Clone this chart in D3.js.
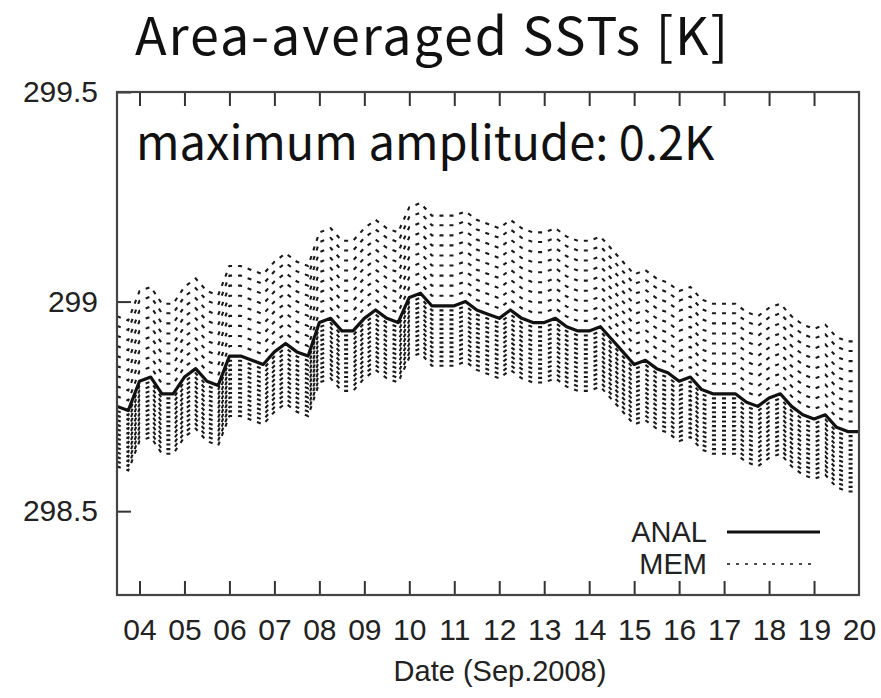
<html>
<head>
<meta charset="utf-8">
<script src="https://d3js.org/d3.v7.min.js"></script>
<style>
  body { margin: 0; background: #fff; }
</style>
</head>
<body>
<svg id="chart" width="881" height="698"></svg>
<script>

// ANAL: area-averaged SST every 6 hours, starting at day 3.5
var startDay = 3.5;
var stepDay = 0.25;
var anal = [298.75,298.74,298.81,298.82,298.78,298.78,298.82,298.84,298.81,298.80,
            298.87,298.87,298.86,298.85,298.88,298.90,298.88,298.87,298.95,298.96,
            298.93,298.93,298.96,298.98,298.96,298.95,299.01,299.02,298.99,298.99,
            298.99,299.00,298.98,298.97,298.96,298.98,298.96,298.95,298.95,298.96,
            298.94,298.93,298.93,298.94,298.91,298.88,298.85,298.86,298.84,298.83,
            298.81,298.82,298.79,298.78,298.78,298.78,298.76,298.75,298.77,298.78,
            298.75,298.73,298.72,298.73,298.70,298.69,298.69];

// MEM: spread of the ensemble members around ANAL [K]
var memOffsets = [0.215,0.192,0.168,0.144,0.120,0.096,0.072,0.048,0.024,
                  -0.011,-0.022,-0.033,-0.044,-0.055,-0.066,-0.077,-0.088,
                  -0.099,-0.110,-0.121,-0.132,-0.143];

var xTicks = [4,5,6,7,8,9,10,11,12,13,14,15,16,17,18,19];
var xLabels = [4,5,6,7,8,9,10,11,12,13,14,15,16,17,18,19,20];
var yTicks = [298.5, 299, 299.5];

var svg = d3.select('#chart');

// plot box
var boxLeft = 117, boxTop = 92, boxRight = 859, boxBottom = 595;
var w = boxRight - boxLeft, h = boxBottom - boxTop;
var fontAxis = "'Liberation Sans', Arial, Helvetica, sans-serif";
var fontJp = "'Noto Sans CJK JP', 'Noto Sans', sans-serif";

var x = d3.scaleLinear().domain([3.5, 20]).range([0, w]);
var y = d3.scaleLinear().domain([298.3, 299.5]).range([h, 0]);

// title
svg.append("text")
    .attr("x", 135)
    .attr("y", 55)
    .style("font-family", fontJp)
    .style("font-size", "52px")
    .style("letter-spacing", "1.9px")
    .style("fill", "#111")
    .text("Area-averaged SSTs [K]");

var g = svg.append("g").attr("transform", "translate(" + boxLeft + "," + boxTop + ")");

g.append("clipPath").attr("id", "clip")
  .append("rect").attr("width", w).attr("height", h);

var line = d3.line()
    .x(function(d, i) { return x(startDay + i * stepDay); })
    .y(function(d) { return y(d); });

var members = memOffsets.map(function(o) {
    return anal.map(function(v) { return v + o; });
});

var plot = g.append("g").attr("clip-path", "url(#clip)");

plot.selectAll(".mem")
    .data(members)
    .enter().append("path")
      .attr("class", "mem")
      .attr("d", line)
      .style("fill", "none")
      .style("stroke", "#1a1a1a")
      .style("stroke-width", 2.1)
      .style("stroke-dasharray", "4,6");

plot.append("path")
    .datum(anal)
    .attr("d", line)
    .style("fill", "none")
    .style("stroke", "#111")
    .style("stroke-width", 3.2)
    .style("stroke-linejoin", "round");

// bottom axis (labels) and inward ticks
var xAxis = g.append("g")
    .attr("transform", "translate(0," + h + ")")
    .call(d3.axisBottom(x).tickValues(xLabels).tickSize(0).tickPadding(24)
          .tickFormat(function(d) { return d3.format("02d")(d); }));
xAxis.select(".domain").remove();
xAxis.selectAll("text")
    .style("font-family", fontAxis)
    .style("font-size", "30px")
    .style("fill", "#222");

g.append("g")
    .attr("transform", "translate(0," + h + ")")
    .call(d3.axisBottom(x).tickValues(xTicks).tickSize(-14).tickFormat(""))
    .call(function(s) { s.select(".domain").remove(); })
    .selectAll("line").style("stroke", "#333").style("stroke-width", 2);

g.append("g")
    .call(d3.axisTop(x).tickValues(xTicks).tickSize(-14).tickFormat(""))
    .call(function(s) { s.select(".domain").remove(); })
    .selectAll("line").style("stroke", "#333").style("stroke-width", 2);

// left axis
var yAxis = g.append("g")
    .call(d3.axisLeft(y).tickValues(yTicks).tickSize(-14).tickPadding(19)
          .tickFormat(function(d) { return d === 299 ? "299" : d3.format(".1f")(d); }));
yAxis.select(".domain").remove();
yAxis.selectAll("line").style("stroke", "#333").style("stroke-width", 2);
yAxis.selectAll("text")
    .style("font-family", fontAxis)
    .style("font-size", "30px")
    .style("fill", "#222");

// frame
g.append("rect")
    .attr("width", w)
    .attr("height", h)
    .style("fill", "none")
    .style("stroke", "#444")
    .style("stroke-width", 2.2);

// annotation inside the plot
g.append("text")
    .attr("x", 19)
    .attr("y", 68)
    .style("font-family", fontJp)
    .style("font-size", "47px")
    .style("fill", "#111")
    .text("maximum amplitude: 0.2K");

// legend
var legend = [
  {name: "ANAL", dash: null, width: 3.2},
  {name: "MEM", dash: "3,6", width: 1.6}
];
var lg = g.selectAll(".legend")
    .data(legend)
    .enter().append("g")
      .attr("class", "legend")
      .attr("transform", function(d, i) { return "translate(0," + (440 + i * 32) + ")"; });
lg.append("text")
    .attr("x", 590)
    .attr("dy", "0.35em")
    .attr("text-anchor", "end")
    .style("font-family", fontAxis)
    .style("font-size", "29px")
    .style("fill", "#222")
    .text(function(d) { return d.name; });
lg.append("line")
    .attr("x1", 610)
    .attr("x2", function(d) { return d.dash ? 698 : 703; })
    .style("stroke", "#111")
    .style("stroke-width", function(d) { return d.width; })
    .style("stroke-dasharray", function(d) { return d.dash; });

// x axis title
svg.append("text")
    .attr("x", 500)
    .attr("y", 681)
    .attr("text-anchor", "middle")
    .style("font-family", fontAxis)
    .style("font-size", "29px")
    .style("fill", "#222")
    .text("Date (Sep.2008)");

</script>
</body>
</html>
